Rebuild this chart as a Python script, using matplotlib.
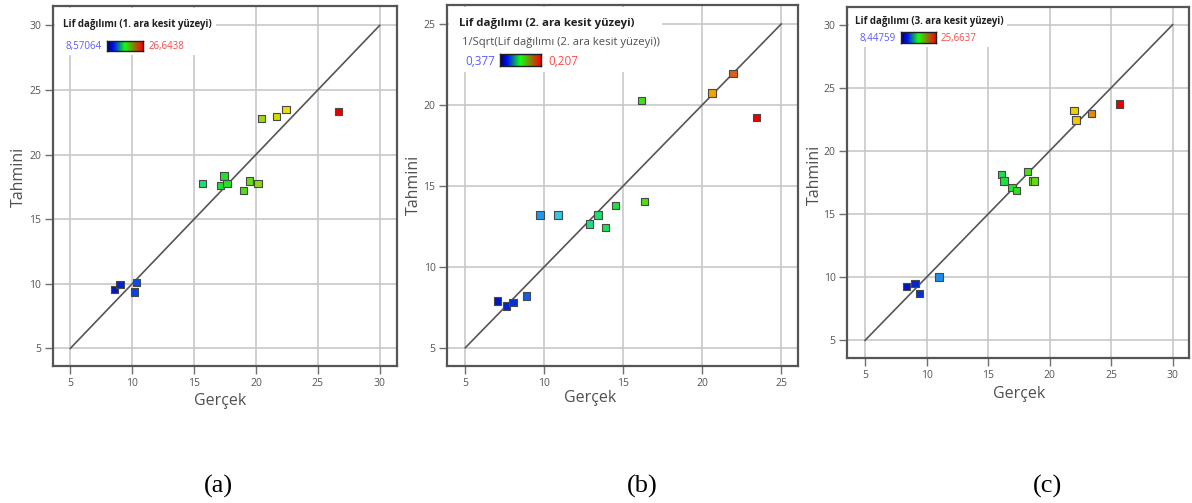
import numpy as np
import matplotlib
matplotlib.use("Agg")
import matplotlib.pyplot as plt
from matplotlib.colors import LinearSegmentedColormap, Normalize
from matplotlib.patches import Rectangle

W, H = 1192, 503
plt.rcParams['font.family'] = ['Open Sans', 'DejaVu Sans']

# (a) 1. ara kesit
a_actual = [8.55, 9.01, 10.33, 10.19, 15.68, 17.14, 17.41, 17.67, 18.99, 19.48, 20.18, 20.47, 21.68, 22.44, 26.66]
a_pred = [9.57, 9.93, 10.11, 9.37, 17.78, 17.60, 18.33, 17.78, 17.24, 17.96, 17.78, 22.79, 22.95, 23.49, 23.31]
a_range = ["8,57064", "26,6438"]
a_cmin, a_cmax = 8.57064, 26.6438

# (b) 2. ara kesit (legend shows 1/sqrt transform)
b_actual = [7.02, 7.61, 8.01, 8.86, 9.72, 10.86, 12.88, 13.39, 13.87, 14.50, 16.34, 16.15, 20.62, 21.94, 23.44]
b_pred = [7.88, 7.57, 7.80, 8.19, 13.20, 13.20, 12.64, 13.20, 12.44, 13.80, 14.04, 20.28, 20.74, 21.93, 19.23]
b_range = ["0,377", "0,207"]
b_cmin, b_cmax = 1 / 0.377 ** 2, 1 / 0.207 ** 2

# (c) 3. ara kesit
c_actual = [8.39, 9.06, 9.44, 11.01, 16.08, 16.29, 16.94, 17.32, 18.22, 18.60, 18.75, 21.98, 22.15, 23.42, 25.67]
c_pred = [9.26, 9.50, 8.73, 10.02, 18.14, 17.62, 17.09, 16.86, 18.35, 17.62, 17.62, 23.22, 22.46, 22.95, 23.72]
c_range = ["8,44759", "25,6637"]
c_cmin, c_cmax = 8.44759, 25.6637

titles = ["Lif dağılımı (1. ara kesit yüzeyi)", "Lif dağılımı (2. ara kesit yüzeyi)",
          "Lif dağılımı (3. ara kesit yüzeyi)"]
b_subtitle = "1/Sqrt(Lif dağılımı (2. ara kesit yüzeyi))"
captions = ["(a)", "(b)", "(c)"]

pt_cmap = LinearSegmentedColormap.from_list("de", [
    (0.00, "#0018c0"), (0.08, "#0a3ae0"), (0.15, "#1f8ee8"), (0.24, "#38c8e0"),
    (0.36, "#18e080"), (0.48, "#20e030"), (0.56, "#40e018"), (0.63, "#80d818"),
    (0.70, "#c0d800"), (0.77, "#f0e000"), (0.84, "#f0a000"), (0.92, "#d86018"),
    (1.00, "#e80000")])
bar_cmap = LinearSegmentedColormap.from_list("bar", [
    (0.0, "#00005a"), (0.18, "#0010ff"), (0.5, "#10ff10"), (1.0, "#ff0000")])


def fbox(l, t, r, b):
    return [l / W, 1 - b / H, (r - l) / W, (b - t) / H]


def fpos(x, y):
    return x / W, 1 - y / H


def draw_panel(fig, box, actual, pred, lim, xlim, ylim, cmin, cmax, white):
    ax = fig.add_axes(fbox(*box))
    ax.set_xlim(*xlim)
    ax.set_ylim(*ylim)
    ticks = np.arange(5, lim + 1, 5)
    ax.set_xticks(ticks)
    ax.set_yticks(ticks)
    ax.set_axisbelow(True)
    ax.grid(True, color="#c8c8c8", lw=1.2)
    ax.tick_params(direction="out", length=5.5, width=1, color="#707070",
                   labelcolor="#555555", labelsize=7.5, pad=3)
    for s in ax.spines.values():
        s.set_color("#555555")
        s.set_linewidth(1.6)
    # white area behind legend hides the grid
    l, t, r, b = white
    ax.add_patch(Rectangle(fpos(l, b), (r - l) / W, (b - t) / H, transform=fig.transFigure,
                           facecolor="white", edgecolor="none", zorder=1))
    ax.plot([5, lim], [5, lim], color="#555555", lw=1.2, zorder=2)
    norm = Normalize(cmin, cmax)
    ax.scatter(actual, pred, c=pt_cmap(norm(np.array(actual))), marker="s", s=28,
               edgecolors="#484848", linewidths=0.8, zorder=3)
    return ax


def draw_bar(fig, box, lo, hi, lo_xy, hi_xy, fs):
    cax = fig.add_axes(fbox(*box))
    cax.imshow(np.linspace(0, 1, 100)[None, :], aspect="auto", cmap=bar_cmap)
    cax.set_xticks([])
    cax.set_yticks([])
    for s in cax.spines.values():
        s.set_color("#202020")
        s.set_linewidth(1)
    fig.text(*fpos(*lo_xy), lo, color="#5a5aff", fontsize=fs, ha="left", va="center")
    fig.text(*fpos(*hi_xy), hi, color="#ff4848", fontsize=fs, ha="left", va="center")


fig = plt.figure(figsize=(W / 100, H / 100), dpi=100)

# panel (a)
draw_panel(fig, (53, 6, 397, 365.7), a_actual, a_pred, 30, (3.6, 31.4), (3.66, 31.5),
           a_cmin, a_cmax, (55, 8, 216, 55))
fig.text(*fpos(63, 25), titles[0], fontsize=7, fontweight="bold", color="#202020", va="center")
draw_bar(fig, (107, 40.7, 143, 51), a_range[0], a_range[1], (66, 46), (149, 46), 7)
fig.text(*fpos(220, 401), "Gerçek", fontsize=11.5, color="#505050", ha="center", va="center")
fig.text(*fpos(19, 177), "Tahmini", fontsize=11.5, color="#505050", ha="center", va="center",
         rotation=90)

# panel (b)
draw_panel(fig, (447.3, 5, 798, 365.7), b_actual, b_pred, 25, (3.86, 26.06), (3.89, 26.17),
           b_cmin, b_cmax, (449, 7, 662, 72))
fig.text(*fpos(459, 24), titles[1], fontsize=8.2, fontweight="bold", color="#202020", va="center")
fig.text(*fpos(461.5, 42.3), b_subtitle, fontsize=8.1, color="#505050", va="center")
draw_bar(fig, (500.3, 54.3, 541, 66.3), b_range[0], b_range[1], (465, 61.7), (548, 61.7), 8.5)
fig.text(*fpos(590, 398), "Gerçek", fontsize=11.5, color="#505050", ha="center", va="center")
fig.text(*fpos(414, 185), "Tahmini", fontsize=11.5, color="#505050", ha="center", va="center",
         rotation=90)

# panel (c)
draw_panel(fig, (847.3, 6.7, 1189.3, 358.3), c_actual, c_pred, 30, (3.56, 31.35), (3.58, 31.42),
           c_cmin, c_cmax, (849, 8, 1007, 47))
fig.text(*fpos(855, 21.7), titles[2], fontsize=7, fontweight="bold", color="#202020", va="center")
draw_bar(fig, (900.7, 32.3, 935.7, 42.7), c_range[0], c_range[1], (859, 38.7), (941, 38.7), 7)
fig.text(*fpos(1019, 394), "Gerçek", fontsize=11.5, color="#505050", ha="center", va="center")
fig.text(*fpos(815, 175), "Tahmini", fontsize=11.5, color="#505050", ha="center", va="center",
         rotation=90)

for cap, cx in zip(captions, [218, 642, 1048]):
    fig.text(*fpos(cx, 486), cap, fontsize=19, family="Liberation Serif", ha="center", va="center")

fig.savefig("out.png", dpi=100)
